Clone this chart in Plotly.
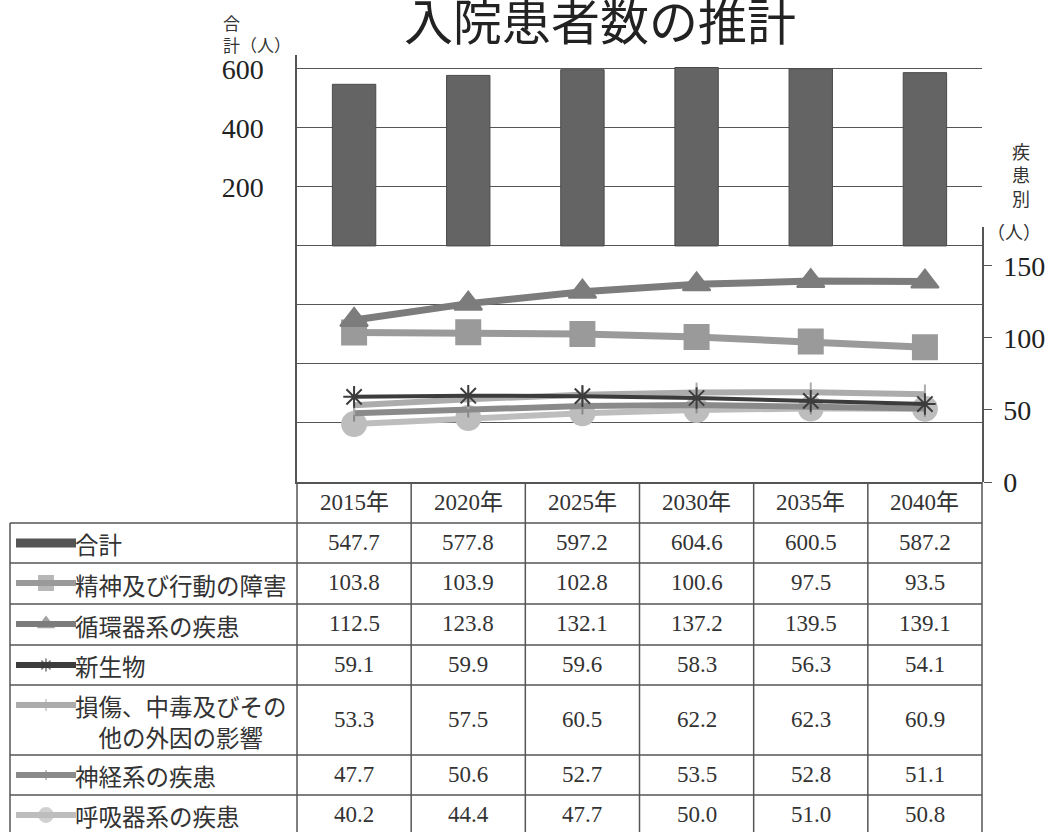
import plotly.graph_objects as go

# ---- data ----
years = ["2015年", "2020年", "2025年", "2030年", "2035年", "2040年"]
total = [547.7, 577.8, 597.2, 604.6, 600.5, 587.2]
mental = [103.8, 103.9, 102.8, 100.6, 97.5, 93.5]
circulatory = [112.5, 123.8, 132.1, 137.2, 139.5, 139.1]
neoplasm = [59.1, 59.9, 59.6, 58.3, 56.3, 54.1]
injury = [53.3, 57.5, 60.5, 62.2, 62.3, 60.9]
nervous = [47.7, 50.6, 52.7, 53.5, 52.8, 51.1]
respiratory = [40.2, 44.4, 47.7, 50.0, 51.0, 50.8]

row_labels = ["合計", "精神及び行動の障害", "循環器系の疾患", "新生物",
              "損傷、中毒及びその<br>他の外因の影響", "神経系の疾患", "呼吸器系の疾患"]
left_ticks = [-800, -600, -400, -200, 0, 200, 400, 600]
left_ticktext = ["", "", "", "", "", "200", "400", "600"]
right_ticks = [0, 50, 100, 150]

W, H = 1053, 832
SERIF = "Liberation Serif, Noto Sans CJK JP"
JP = "Noto Sans CJK JP"
GRID = "#555555"
TXT = "#333333"

# line series styles (order matches table rows after 合計)
line_series = [
    ("精神及び行動の障害", mental, "#9a9a9a", "square", 24, 7),
    ("循環器系の疾患", circulatory, "#7c7c7c", "triangle-up", 24, 7),
    ("新生物", neoplasm, "#3c3c3c", "asterisk-open", 18, 4),
    ("損傷、中毒及びその他の外因の影響", injury, "#acacac", "line-ns-open", 14, 6),
    ("神経系の疾患", nervous, "#8a8a8a", "line-ns-open", 12, 6),
    ("呼吸器系の疾患", respiratory, "#bdbdbd", "circle", 24, 6),
]

# ---- layout constants (pixels) ----
PLOT_L, PLOT_R, PLOT_T, PLOT_B = 297, 982, 55, 482
TABLE_L = 10
HEADER_B = 523
row_heights = [40, 41, 41, 40, 70, 40, 40]


def px(x):
    return x / W


def py(y):
    return 1 - y / H


fig = go.Figure()

# bars (合計)
fig.add_trace(go.Bar(x=years, y=total, name="合計", xaxis="x", yaxis="y",
                     marker=dict(color="#646464", line=dict(color="#4a4a4a", width=1)),
                     showlegend=False))

# lines (疾患別) on right axis
draw_order = [5, 4, 3, 2, 0, 1]
for i in draw_order:
    name, vals, col, sym, sz, lw = line_series[i]
    mk = dict(symbol=sym, size=sz, color=col, line=dict(color=col, width=2))
    fig.add_trace(go.Scatter(x=years, y=vals, name=name, mode="lines+markers",
                             xaxis="x", yaxis="y2",
                             line=dict(color=col, width=lw), marker=mk,
                             showlegend=False))

# ---- data table under the chart ----
all_rows = [total, mental, circulatory, neoplasm, injury, nervous, respiratory]
row_tops = []
y = HEADER_B
for h in row_heights:
    row_tops.append(y)
    y += h
row_bottoms = [t + h for t, h in zip(row_tops, row_heights)]

annotations = []
shapes = []
ln = dict(color=GRID, width=1.5)

# header texts
for yr in years:
    annotations.append(dict(text=yr, x=yr, xref="x", y=py((PLOT_B + HEADER_B) / 2), yref="paper",
                            showarrow=False, xanchor="center", yanchor="middle",
                            font=dict(family=SERIF, size=23, color=TXT)))
# cell values and row labels
for lab, vals, top, h in zip(row_labels, all_rows, row_tops, row_heights):
    cy = top + h / 2
    for yr, v in zip(years, vals):
        annotations.append(dict(text=f"{v:.1f}", x=yr, xref="x", y=py(cy - 1), yref="paper",
                                showarrow=False, xanchor="center", yanchor="middle",
                                font=dict(family=SERIF, size=23, color=TXT)))
    annotations.append(dict(text=lab, x=px(73), xref="paper", y=py(cy + 1), yref="paper",
                            showarrow=False, xanchor="left", yanchor="middle", align="center",
                            font=dict(family=JP, size=23.5, color=TXT)))

# horizontal rules
shapes.append(dict(type="line", xref="paper", yref="paper", x0=px(PLOT_L), x1=px(PLOT_R),
                   y0=py(HEADER_B), y1=py(HEADER_B), line=ln))
shapes.append(dict(type="line", xref="paper", yref="paper", x0=px(TABLE_L), x1=px(PLOT_L),
                   y0=py(HEADER_B), y1=py(HEADER_B), line=ln))
for b in row_bottoms:
    if b < H:
        shapes.append(dict(type="line", xref="paper", yref="paper", x0=px(TABLE_L),
                           x1=px(PLOT_R), y0=py(b), y1=py(b), line=ln))
# vertical rules at category boundaries
ncat = len(years)
cw = (PLOT_R - PLOT_L) / ncat
for k in range(ncat + 1):
    xb = PLOT_L + k * cw
    shapes.append(dict(type="line", xref="paper", yref="paper", x0=px(xb), x1=px(xb),
                       y0=py(PLOT_B), y1=0, line=ln))
shapes.append(dict(type="line", xref="paper", yref="paper", x0=px(TABLE_L), x1=px(TABLE_L),
                   y0=py(HEADER_B), y1=0, line=ln))

# legend keys inside the first table column
key_styles = [("#555555", None, 0, 9)] + [(s[2], s[3], s[4] * 0.6, 6) for s in line_series]
for (col, sym, sz, lw), top, lab in zip(key_styles, row_tops, row_labels):
    ky = top + 20
    mk = dict(size=[0, sz, 0], color=col, line=dict(color=col, width=1.5))
    if sym:
        mk["symbol"] = sym
    fig.add_trace(go.Scatter(x=[6, 36, 66], y=[ky] * 3, mode="lines+markers",
                             xaxis="x3", yaxis="y3", line=dict(color=col, width=lw),
                             marker=mk, showlegend=False, hoverinfo="skip"))

annotations += [
    dict(text="入院患者数の推計", x=px(600), y=py(19), xref="paper", yref="paper",
         xanchor="center", yanchor="middle",
         showarrow=False, font=dict(family=JP, size=49, color="#222222")),
    dict(text="合<br>計（人）", x=px(221), y=py(34), xref="paper", yref="paper",
         xanchor="left", yanchor="middle", align="left", showarrow=False,
         font=dict(family=JP, size=17, color=TXT)),
    dict(text="疾<br>患<br>別", x=px(1021), y=py(175), xref="paper", yref="paper",
         xanchor="center", yanchor="middle",
         showarrow=False, font=dict(family=JP, size=18, color=TXT)),
    dict(text="（人）", x=px(1014), y=py(231), xref="paper", yref="paper",
         xanchor="center", yanchor="middle",
         showarrow=False, font=dict(family=JP, size=18, color=TXT)),
]

fig.update_layout(
    width=W, height=H,
    margin=dict(l=0, r=0, t=0, b=0),
    paper_bgcolor="white", plot_bgcolor="rgba(0,0,0,0)",
    bargap=0.62,
    font=dict(family=JP, color=TXT),
    xaxis=dict(domain=[px(PLOT_L), px(PLOT_R)], showticklabels=False, ticks="",
               showline=True, linecolor=GRID, linewidth=1.5, showgrid=False,
               anchor="y", automargin=False),
    yaxis=dict(domain=[py(PLOT_B), py(PLOT_T)], range=[-800, 647],
               tickvals=left_ticks, ticktext=left_ticktext,
               ticks="inside", ticklen=10, tickcolor=GRID,
               showline=True, linecolor=GRID, linewidth=1.5,
               showgrid=True, gridcolor=GRID, gridwidth=1.3, zeroline=False,
               ticklabelstandoff=26, automargin=False,
               tickfont=dict(family=SERIF, size=28, color="#222222"), anchor="x"),
    yaxis2=dict(domain=[py(PLOT_B), py(227)], range=[0, 177], anchor="x",
                side="right", tickvals=right_ticks, ticks="outside", ticklen=8,
                tickcolor=GRID, showline=True, linecolor=GRID, linewidth=1.5,
                showgrid=False, zeroline=False, ticklabelstandoff=6, automargin=False,
                tickfont=dict(family=SERIF, size=28, color="#222222")),
    xaxis3=dict(domain=[px(TABLE_L), px(PLOT_L)], range=[0, PLOT_L - TABLE_L],
                visible=False, anchor="y3"),
    yaxis3=dict(domain=[0, py(PLOT_B)], range=[H, PLOT_B], visible=False, anchor="x3"),
    annotations=annotations,
    shapes=shapes,
)

fig.write_html(
    "out.html",
    config={"displayModeBar": False},
    post_script=("document.documentElement.style.overflow='hidden';"
                 "document.body.style.margin='0';"
                 "document.body.style.overflow='hidden';"
                 "document.querySelectorAll('.plotly-graph-div,.svg-container')"
                 ".forEach(function(e){e.style.overflow='hidden';});"),
)
